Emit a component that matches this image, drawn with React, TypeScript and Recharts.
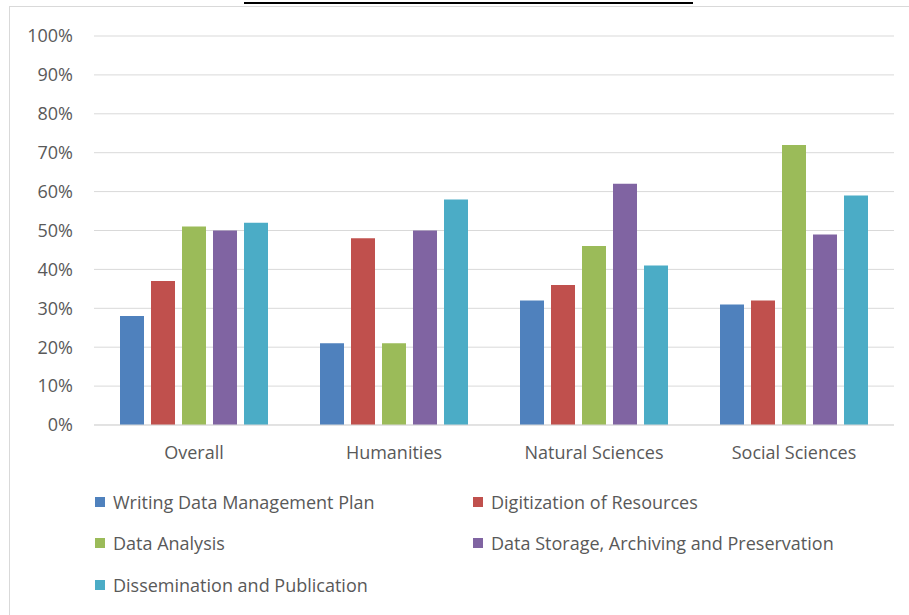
import React from "react";
import { BarChart, Bar, XAxis, YAxis, CartesianGrid } from "recharts";

const categories = ["Overall", "Humanities", "Natural Sciences", "Social Sciences"];
const writingPlan = [28, 21, 32, 31];
const digitization = [37, 48, 36, 32];
const dataAnalysis = [51, 21, 46, 72];
const dataStorage = [50, 50, 62, 49];
const dissemination = [52, 58, 41, 59];
const yTicks = [0, 10, 20, 30, 40, 50, 60, 70, 80, 90, 100];

const series = [
  { key: "writingPlan", name: "Writing Data Management Plan", color: "#4F81BD", values: writingPlan },
  { key: "digitization", name: "Digitization of Resources", color: "#C0504D", values: digitization },
  { key: "dataAnalysis", name: "Data Analysis", color: "#9BBB59", values: dataAnalysis },
  { key: "dataStorage", name: "Data Storage, Archiving and Preservation", color: "#8064A2", values: dataStorage },
  { key: "dissemination", name: "Dissemination and Publication", color: "#4BACC6", values: dissemination },
];

const data = categories.map((c, i) => {
  const row: Record<string, string | number> = { category: c };
  series.forEach((s) => (row[s.key] = s.values[i]));
  return row;
});

const FONT = "'Open Sans', sans-serif";
const TEXT = "#595959";
const FS = 18;

function LegendBox() {
  return (
    <div
      style={{
        position: "absolute",
        left: 94,
        top: 481,
        display: "grid",
        gridTemplateColumns: "378px 420px",
        fontFamily: FONT,
        fontSize: FS,
        color: TEXT,
      }}
    >
      {series.map((s) => (
        <div key={s.key} style={{ display: "flex", alignItems: "center", height: 41.5, whiteSpace: "nowrap" }}>
          <span style={{ width: 10, height: 10, background: s.color, display: "inline-block", marginRight: 8, marginLeft: 1 }} />
          <span>{s.name}</span>
        </div>
      ))}
    </div>
  );
}

export default function App() {
  return (
    <div style={{ position: "fixed", left: 0, top: 0, width: 909, height: 615, overflow: "hidden", background: "#fff" }}>
      <div style={{ position: "absolute", left: 0, top: 0 }}>
        <BarChart
          width={909}
          height={615}
          data={data}
          margin={{ top: 36, right: 15, left: 0, bottom: 0 }}
          barCategoryGap="13%"
          barGap={7}
        >
          <CartesianGrid vertical={false} stroke="#d9d9d9" />
          <XAxis
            dataKey="category"
            axisLine={{ stroke: "#d9d9d9" }}
            tickLine={false}
            tickMargin={15}
            height={190}
            tick={{ fill: TEXT, fontSize: FS, fontFamily: FONT }}
          />
          <YAxis
            width={94}
            domain={[0, 100]}
            ticks={yTicks}
            interval={0}
            tickFormatter={(v) => `${v}%`}
            axisLine={false}
            tickLine={false}
            tickMargin={15}
            tick={{ fill: TEXT, fontSize: FS, fontFamily: FONT }}
          />
          {series.map((s) => (
            <Bar key={s.key} dataKey={s.key} name={s.name} fill={s.color} isAnimationActive={false} />
          ))}
        </BarChart>
      </div>
      <LegendBox />
      {/* clipped title underline */}
      <div style={{ position: "absolute", left: 244, top: 2, width: 449, height: 2, background: "#000", zIndex: 2 }} />
      {/* chart frame */}
      <div
        style={{
          position: "absolute",
          left: 9,
          top: 6,
          width: 920,
          height: 630,
          border: "1px solid #d9d9d9",
          zIndex: 2,
        }}
      />
    </div>
  );
}
